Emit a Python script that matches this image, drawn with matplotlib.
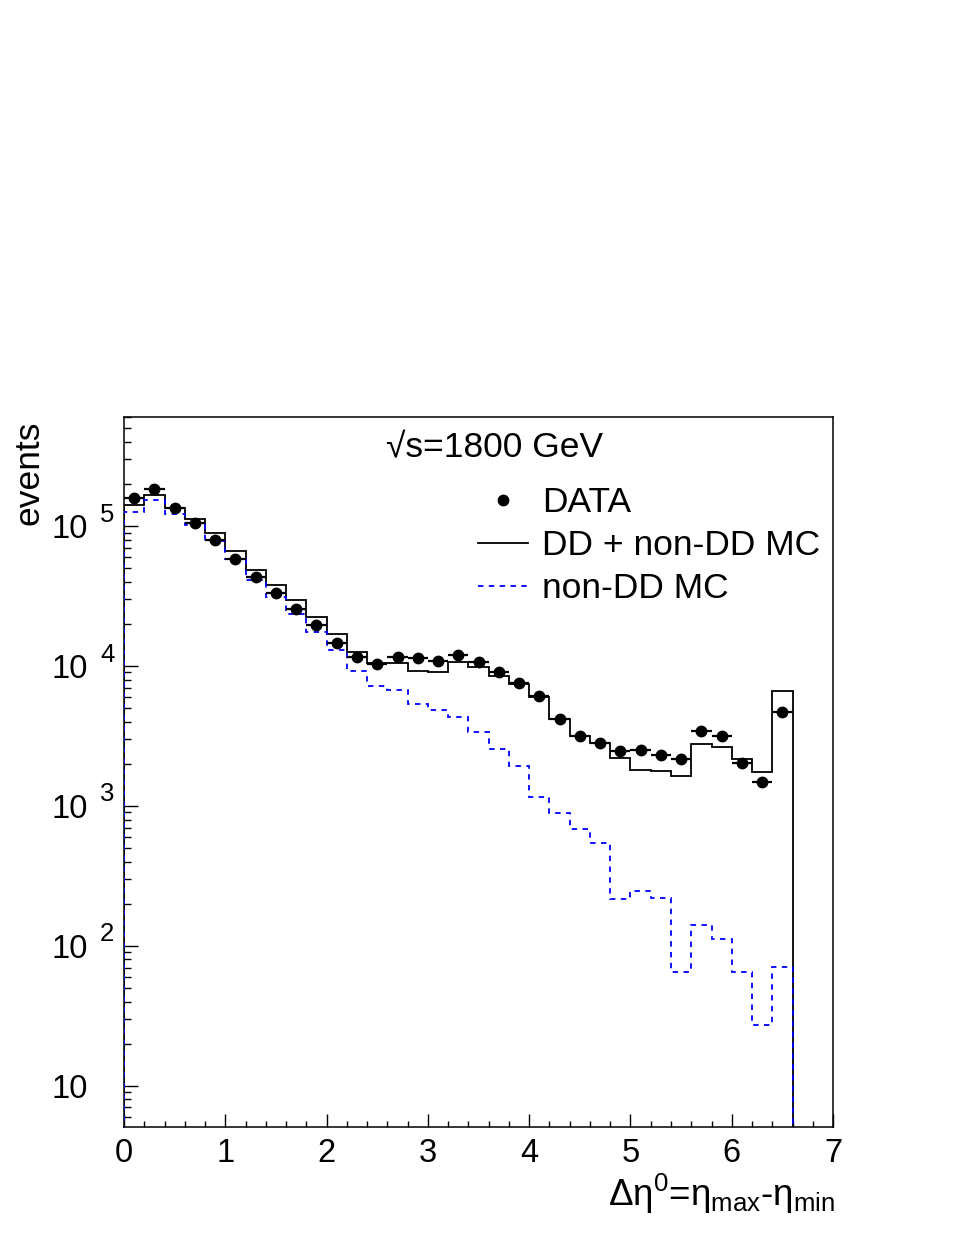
import numpy as np
import matplotlib
matplotlib.use("Agg")
import matplotlib.pyplot as plt
from matplotlib.lines import Line2D
from matplotlib import transforms
from matplotlib.ticker import FixedLocator, FixedFormatter, LogLocator, NullFormatter, MultipleLocator

plt.rcParams['font.family'] = ['Liberation Sans', 'DejaVu Sans']
plt.rcParams['mathtext.fontset'] = 'custom'
plt.rcParams['mathtext.rm'] = 'Liberation Sans'
plt.rcParams['mathtext.it'] = 'Liberation Sans:italic'
plt.rcParams['mathtext.bf'] = 'Liberation Sans:bold'

# binning: 33 bins of width 0.2 from 0 to 6.6
bin_edges = np.round(np.arange(0, 6.61, 0.2), 2)
bin_centers = 0.5 * (bin_edges[:-1] + bin_edges[1:])

# measured events
data = [1.58e5, 1.845e5, 1.35e5, 1.05e5, 8.0e4, 5.86e4, 4.31e4, 3.31e4, 2.55e4, 1.96e4,
        1.47e4, 1.152e4, 1.04e4, 1.152e4, 1.147e4, 1.093e4, 1.20e4, 1.066e4, 9.10e3, 7.51e3,
        6.08e3, 4.17e3, 3.18e3, 2.82e3, 2.485e3, 2.51e3, 2.33e3, 2.17e3, 3.42e3, 3.15e3,
        2.04e3, 1.477e3, 4.68e3]

# DD + non-DD MC
mc_total = [1.41e5, 1.67e5, 1.354e5, 1.12e5, 8.9e4, 6.68e4, 4.86e4, 3.82e4, 2.98e4, 2.26e4,
            1.69e4, 1.25e4, 1.057e4, 1.052e4, 9.19e3, 9.0e3, 1.064e4, 9.9e3, 8.5e3, 7.45e3,
            6.01e3, 4.19e3, 3.18e3, 2.835e3, 2.20e3, 1.82e3, 1.785e3, 1.647e3, 2.76e3, 2.63e3,
            2.157e3, 1.736e3, 6.58e3]

# non-DD MC
mc_nondd = [1.26e5, 1.54e5, 1.22e5, 1.013e5, 7.86e4, 5.78e4, 4.14e4, 3.10e4, 2.35e4, 1.76e4,
            1.295e4, 9.22e3, 7.23e3, 6.78e3, 5.38e3, 4.84e3, 4.31e3, 3.36e3, 2.57e3, 1.925e3,
            1.16e3, 884, 688, 541, 215, 247, 219, 64.7, 141, 112,
            65.1, 27.1, 71.0]

fig = plt.figure(figsize=(9.57, 12.39), dpi=100)
ax = fig.add_axes([0.1296, 0.0902, 0.7409, 0.5730])

ax.stairs(mc_total, bin_edges, baseline=1e-3, color='black', lw=1.3, zorder=2)
ax.stairs(mc_nondd, bin_edges, baseline=1e-3, color='blue', lw=1.3, ls=(0, (3, 3)), zorder=3)
ax.errorbar(bin_centers, data, xerr=0.1, fmt='o', color='black', ms=7.5, elinewidth=1.6,
            capsize=0, zorder=4)

ax.set_yscale('log')
ax.set_xlim(0, 7)
ax.set_ylim(5.05, 6.0e5)

# ROOT-like ticks
ax.xaxis.set_major_locator(MultipleLocator(1))
ax.xaxis.set_minor_locator(MultipleLocator(0.2))
exps = [1, 2, 3, 4, 5]
ax.yaxis.set_major_locator(FixedLocator([10.0 ** k for k in exps]))
ax.yaxis.set_major_formatter(FixedFormatter(['10'] * len(exps)))
ax.yaxis.set_minor_locator(LogLocator(base=10, subs=np.arange(2, 10)))
ax.yaxis.set_minor_formatter(NullFormatter())
ax.tick_params(axis='both', which='both', direction='in', top=False, right=False, width=1.0)
ax.tick_params(axis='x', which='major', length=9.5, labelsize=23.5, pad=7.5)
ax.tick_params(axis='x', which='minor', length=4.5)
ax.tick_params(axis='y', which='major', length=10, labelsize=23.5, pad=26)
ax.tick_params(axis='y', which='minor', length=5)
for sp in ax.spines.values():
    sp.set_linewidth(1.1)

# exponents of the y labels
blend = transforms.blended_transform_factory(ax.transAxes, ax.transData)
shift = transforms.ScaledTranslation(0, 4.5 / 100, fig.dpi_scale_trans)
for k in exps[1:]:
    ax.text(-0.034, 10.0 ** k, str(k), transform=blend + shift, ha='left', va='baseline',
            fontsize=18.5)

ax.set_ylabel('events', fontsize=25.5)
ax.yaxis.set_label_coords(-0.111, 0.996)
ax.yaxis.label.set_ha('right')

ax.set_xlabel(r'$\mathrm{\Delta\eta^{0}}$=$\mathrm{\eta_{max}}$-$\mathrm{\eta_{min}}$', fontsize=26.5)
ax.xaxis.set_label_coords(1.003, -0.111)
ax.xaxis.label.set_ha('right')
ax.xaxis.label.set_va('baseline')

ax.text(0.522, 0.9445, '\u221as=1800 GeV', transform=ax.transAxes, ha='center',
        va='baseline', fontsize=25.5)

handles = [Line2D([], [], ls='none', marker='o', color='black', ms=7.5),
           Line2D([], [], color='black', lw=1.3),
           Line2D([], [], color='blue', lw=1.3, ls=(0, (3, 3)))]
labels = ['DATA', 'DD + non-DD MC', 'non-DD MC']
ax.legend(handles, labels, loc='upper left', bbox_to_anchor=(0.4993, 0.903), frameon=False,
          fontsize=25.5, borderpad=0, borderaxespad=0, handlelength=1.41, handletextpad=0.39,
          labelspacing=0.28)

fig.savefig('out.png', dpi=100)
